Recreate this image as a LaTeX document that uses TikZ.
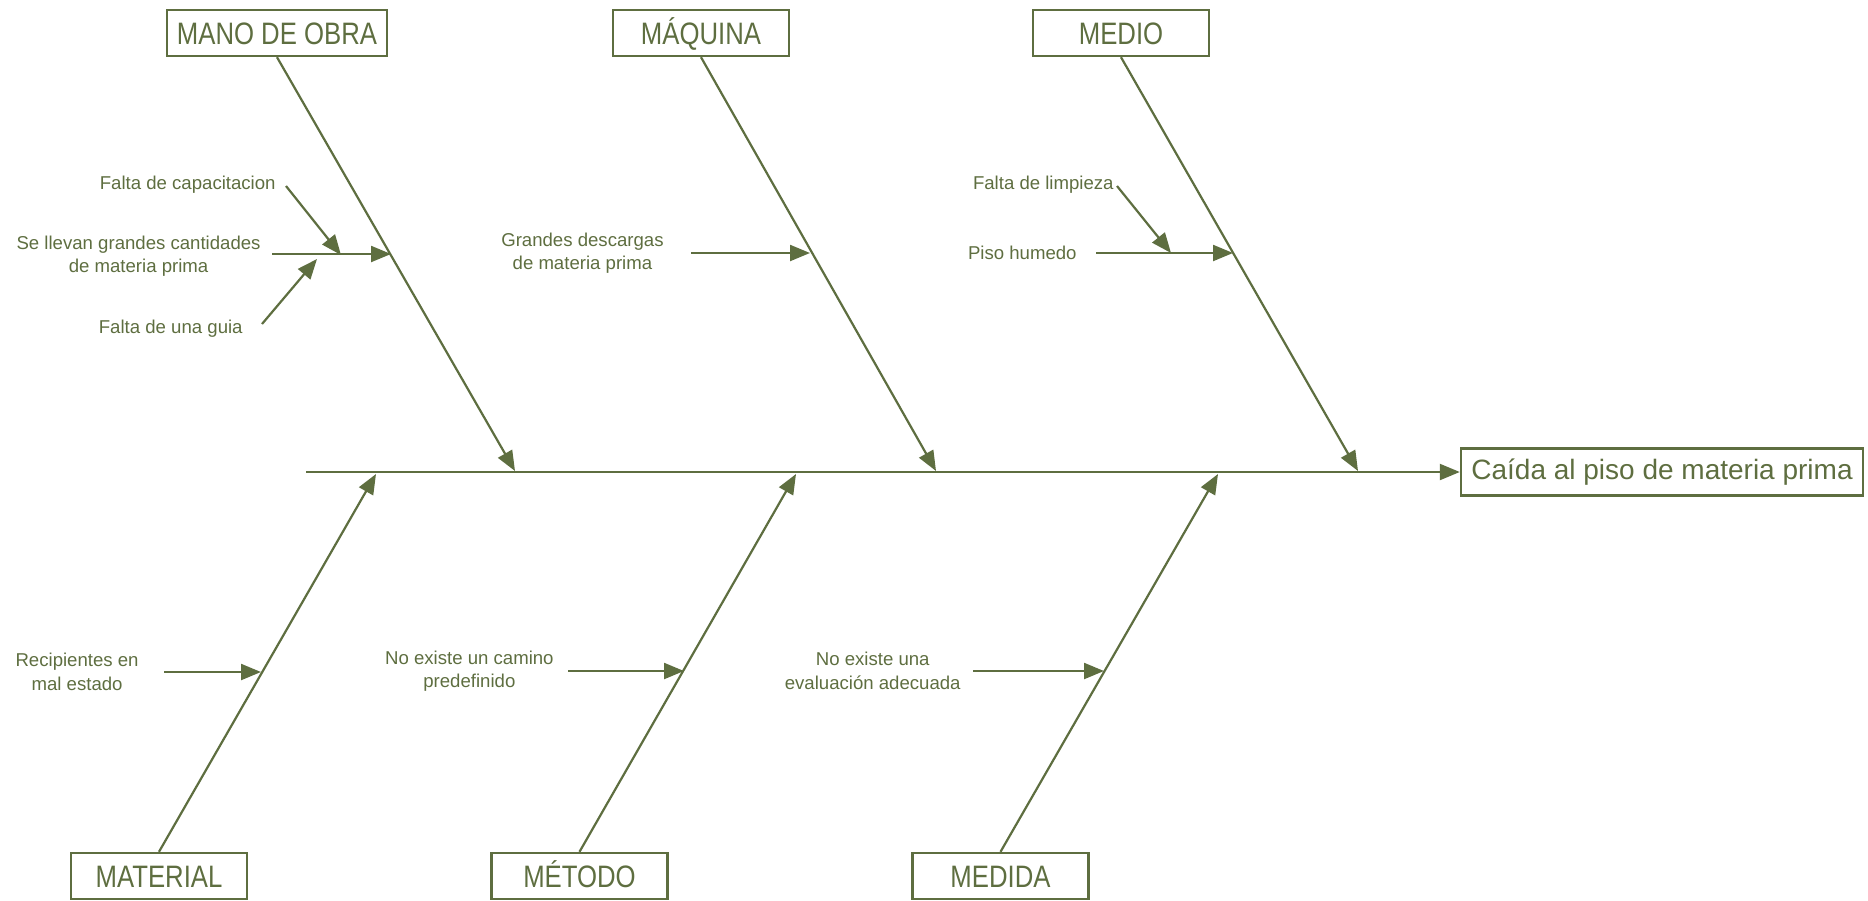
\documentclass[tikz,border=0pt]{standalone}
\usepackage{fontspec}
\setmainfont{Liberation Sans}
\newfontfamily\catfont[FakeStretch=0.83]{Liberation Sans}
\usetikzlibrary{arrows.meta}

\definecolor{ishiverde}{HTML}{5E6E40}

\tikzset{
  catbox/.style={draw=ishiverde, line width=1.2pt, text=ishiverde,
    minimum height=23pt, minimum width=88pt, inner sep=5pt,
    text height=11pt, text depth=0pt,
    font=\catfont\fontsize{15.5}{17}\selectfont},
  efectobox/.style={draw=ishiverde, line width=1.2pt, text=ishiverde,
    minimum height=23.5pt, minimum width=201pt, inner sep=3pt,
    font=\fontsize{14}{16}\selectfont},
  causa/.style={text=ishiverde, align=center, anchor=east, inner sep=1pt,
    font=\fontsize{9.3}{11.8}\selectfont},
  espina/.style={ishiverde, line width=1.1pt},
  flecha/.style={espina, -{Triangle[length=10pt,width=8pt]}}
}

\begin{document}
\begin{tikzpicture}[x=0.5pt, y=-0.5pt]
        \useasboundingbox (0,0) rectangle (1868,900);

        % Efecto y categorias
        \node[efectobox] (efecto) at (1662,472) {Caída al piso de materia prima};

        \node[catbox] (mano)     at (277,33)    {MANO DE OBRA};
        \node[catbox] (maquina)  at (701,33)    {MÁQUINA};
        \node[catbox] (medio)    at (1121,33)   {MEDIO};
        \node[catbox] (material) at (159,876)   {MATERIAL};
        \node[catbox] (metodo)   at (579.5,876) {MÉTODO};
        \node[catbox] (medida)   at (1000.5,876){MEDIDA};

        % Puntos sobre la espina principal
        \coordinate (cola) at (306,472);
        \coordinate (Pmano) at (515,471);
        \coordinate (Pmaquina) at (936,471);
        \coordinate (Pmedio) at (1358,471);
        \coordinate (Pmaterial) at (376,474);
        \coordinate (Pmetodo) at (796,474);
        \coordinate (Pmedida) at (1218,474);

        % Espina principal y ramas
        \draw[flecha] (cola) -- (efecto.west);
        \draw[flecha] (mano.south) -- (Pmano);
        \draw[flecha] (maquina.south) -- (Pmaquina);
        \draw[flecha] (medio.south) -- (Pmedio);
        \draw[flecha] (material.north) -- (Pmaterial);
        \draw[flecha] (metodo.north) -- (Pmetodo);
        \draw[flecha] (medida.north) -- (Pmedida);

        % Causas: mano de obra
        \node[causa] (capac) at (278,185) {Falta de capacitacion};
        \node[causa] (llevan) at (263,256) {Se llevan grandes cantidades\\de materia prima};
        \node[causa] (guia) at (245,329) {Falta de una guia};
        \coordinate (Sllevan) at (272,254);
        \coordinate (Tllevan) at (391,254);
        \coordinate (Scapac) at (286,186);
        \coordinate (Tcapac) at (341,255);
        \coordinate (Sguia) at (262,324);
        \coordinate (Tguia) at (317,259);
        \draw[flecha] (Sllevan) -- (Tllevan);
        \draw[flecha] (Scapac) -- (Tcapac);
        \draw[flecha] (Sguia) -- (Tguia);

        % Causas: maquina
        \node[causa] (descargas) at (666,253) {Grandes descargas\\de materia prima};
        \coordinate (Sdescargas) at (691,253);
        \coordinate (Tdescargas) at (810,253);
        \draw[flecha] (Sdescargas) -- (Tdescargas);

        % Causas: medio
        \node[causa] (limpieza) at (1116,185) {Falta de limpieza};
        \node[causa] (humedo) at (1079,253) {Piso humedo};
        \coordinate (Slimpieza) at (1117,186);
        \coordinate (Tlimpieza) at (1171,253);
        \coordinate (Shumedo) at (1096,253);
        \coordinate (Thumedo) at (1233,253);
        \draw[flecha] (Slimpieza) -- (Tlimpieza);
        \draw[flecha] (Shumedo) -- (Thumedo);

        % Causas: material, metodo, medida
        \node[causa] (recip) at (141,672) {Recipientes en\\mal estado};
        \node[causa] (camino) at (556,671) {No existe un camino\\predefinido};
        \node[causa] (evalua) at (963,671) {No existe una\\evaluación adecuada};
        \coordinate (Srecip) at (164,672);
        \coordinate (Trecip) at (261,672);
        \coordinate (Scamino) at (568,671);
        \coordinate (Tcamino) at (684,671);
        \coordinate (Sevalua) at (973,671);
        \coordinate (Tevalua) at (1104,671);
        \draw[flecha] (Srecip) -- (Trecip);
        \draw[flecha] (Scamino) -- (Tcamino);
        \draw[flecha] (Sevalua) -- (Tevalua);

    \end{tikzpicture}
\end{document}
